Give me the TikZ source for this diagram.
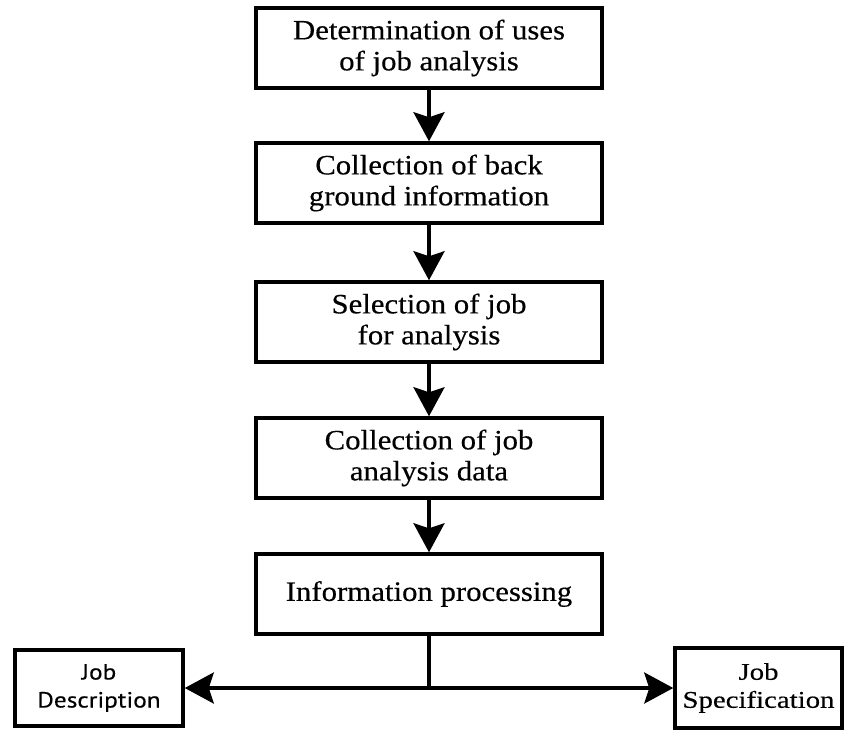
\documentclass[tikz,border=0pt]{standalone}
\usepackage{fontspec}
\setmainfont{Liberation Serif}
\newfontfamily\stepfont[FakeStretch=1.1,FakeBold=0.4]{Liberation Serif}
\newfontfamily\specfont[FakeStretch=1.2,FakeBold=0.3]{Liberation Serif}
\newfontfamily\boxsans[FakeStretch=1.15,FakeBold=0.3]{PT Sans}
\usetikzlibrary{arrows.meta}
\begin{document}
\begin{tikzpicture}[x=1pt,y=-1pt,
  stepbox/.style={draw,line width=3.5pt,minimum width=346pt,minimum height=80pt,
    inner sep=0pt,align=center,
    font=\stepfont\fontsize{28}{31}\selectfont},
  outbox/.style={draw,line width=3.5pt,inner sep=0pt,align=center},
  arr/.style={line width=3.5pt,-{Stealth[length=29pt,width=31pt,inset=5pt]}},
  link/.style={line width=3.5pt}]
\useasboundingbox (0,0) rectangle (846,729);
\node[stepbox] (b1) at (429,48) {Determination of uses\\of job analysis};
\node[stepbox] (b2) at (429,183) {Collection of back\\ground information};
\node[stepbox] (b3) at (429,322) {Selection of job\\for analysis};
\node[stepbox] (b4) at (429,458) {Collection of job\\analysis data};
\node[stepbox] (b5) at (429,594) {Information processing};
\node[outbox,minimum width=168pt,minimum height=76pt,
  font=\boxsans\fontsize{22}{28}\selectfont] (jd) at (99,688) {Job\\Description};
\node[outbox,minimum width=167pt,minimum height=80pt,
  font=\specfont\fontsize{24}{28}\selectfont] (js) at (758.5,688) {Job\\Specification};
\coordinate (j) at (429,688);
\draw[arr] (b1) -- (b2);
\draw[arr] (b2) -- (b3);
\draw[arr] (b3) -- (b4);
\draw[arr] (b4) -- (b5);
\draw[link] (b5.south) -- (j);
\draw[arr] (j) -- (jd.east);
\draw[arr] (j) -- (js.west);
\end{tikzpicture}
\end{document}
